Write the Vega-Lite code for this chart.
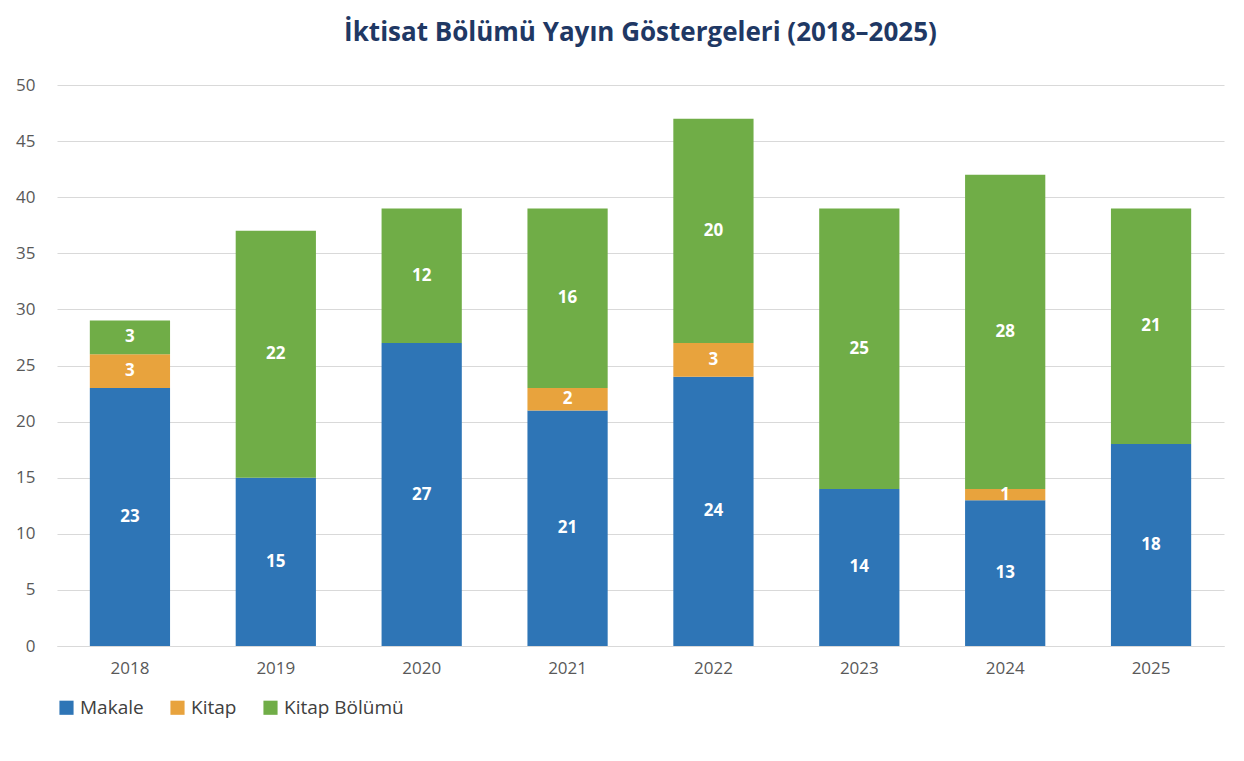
{
  "$schema": "https://vega.github.io/schema/vega-lite/v6.json",
  "autosize": "none",
  "width": 1167,
  "height": 561,
  "padding": {"left": 57, "top": 85, "right": 20, "bottom": 115},
  "background": "white",
  "config": {
    "font": "Open Sans",
    "view": {"stroke": null},
    "axis": {"labelFontSize": 17, "labelColor": "#595959", "titleFontSize": 14},
    "legend": {"labelFontSize": 19, "labelColor": "#404040"}
  },
  "title": {
    "text": "İktisat Bölümü Yayın Göstergeleri (2018–2025)",
    "fontSize": 26,
    "fontWeight": "bold",
    "color": "#1F3864",
    "offset": 30,
    "anchor": "middle"
  },
  "data": {
    "values": [
      {"Year": "2018", "Tür": "Makale", "o": 1, "n": 23},
      {"Year": "2018", "Tür": "Kitap", "o": 2, "n": 3},
      {"Year": "2018", "Tür": "Kitap Bölümü", "o": 3, "n": 3},
      {"Year": "2019", "Tür": "Makale", "o": 1, "n": 15},
      {"Year": "2019", "Tür": "Kitap", "o": 2, "n": 0},
      {"Year": "2019", "Tür": "Kitap Bölümü", "o": 3, "n": 22},
      {"Year": "2020", "Tür": "Makale", "o": 1, "n": 27},
      {"Year": "2020", "Tür": "Kitap", "o": 2, "n": 0},
      {"Year": "2020", "Tür": "Kitap Bölümü", "o": 3, "n": 12},
      {"Year": "2021", "Tür": "Makale", "o": 1, "n": 21},
      {"Year": "2021", "Tür": "Kitap", "o": 2, "n": 2},
      {"Year": "2021", "Tür": "Kitap Bölümü", "o": 3, "n": 16},
      {"Year": "2022", "Tür": "Makale", "o": 1, "n": 24},
      {"Year": "2022", "Tür": "Kitap", "o": 2, "n": 3},
      {"Year": "2022", "Tür": "Kitap Bölümü", "o": 3, "n": 20},
      {"Year": "2023", "Tür": "Makale", "o": 1, "n": 14},
      {"Year": "2023", "Tür": "Kitap", "o": 2, "n": 0},
      {"Year": "2023", "Tür": "Kitap Bölümü", "o": 3, "n": 25},
      {"Year": "2024", "Tür": "Makale", "o": 1, "n": 13},
      {"Year": "2024", "Tür": "Kitap", "o": 2, "n": 1},
      {"Year": "2024", "Tür": "Kitap Bölümü", "o": 3, "n": 28},
      {"Year": "2025", "Tür": "Makale", "o": 1, "n": 18},
      {"Year": "2025", "Tür": "Kitap", "o": 2, "n": 0},
      {"Year": "2025", "Tür": "Kitap Bölümü", "o": 3, "n": 21}
    ]
  },
  "transform": [
    {"stack": "n", "groupby": ["Year"], "sort": [{"field": "o"}], "as": ["y0", "y1"]},
    {"calculate": "(datum.y0 + datum.y1) / 2", "as": "mid"}
  ],
  "encoding": {
    "x": {
      "field": "Year", "type": "ordinal", "title": null,
      "scale": {"paddingInner": 0.45, "paddingOuter": 0.225},
      "axis": {"labelAngle": 0, "ticks": false, "domainColor": "#D9D9D9", "labelPadding": 14}
    }
  },
  "layer": [
    {
      "mark": {"type": "bar"},
      "encoding": {
        "y": {
          "field": "y0", "type": "quantitative", "title": null,
          "scale": {"domain": [0, 50]},
          "axis": {"tickCount": 10, "domain": false, "ticks": false, "gridColor": "#D9D9D9", "labelPadding": 22}
        },
        "y2": {"field": "y1"},
        "color": {
          "field": "Tür", "type": "nominal", "title": null,
          "scale": {"domain": ["Makale", "Kitap", "Kitap Bölümü"], "range": ["#2E75B6", "#E8A33D", "#70AD47"]},
          "legend": {"orient": "bottom", "direction": "horizontal", "symbolType": "square", "symbolSize": 200, "offset": 22, "columnPadding": 24}
        }
      }
    },
    {
      "transform": [{"filter": "datum.n > 0"}],
      "mark": {"type": "text", "color": "white", "fontWeight": "bold", "fontSize": 17, "baseline": "middle"},
      "encoding": {
        "y": {"field": "mid", "type": "quantitative"},
        "text": {"field": "n", "type": "quantitative"}
      }
    }
  ]
}
